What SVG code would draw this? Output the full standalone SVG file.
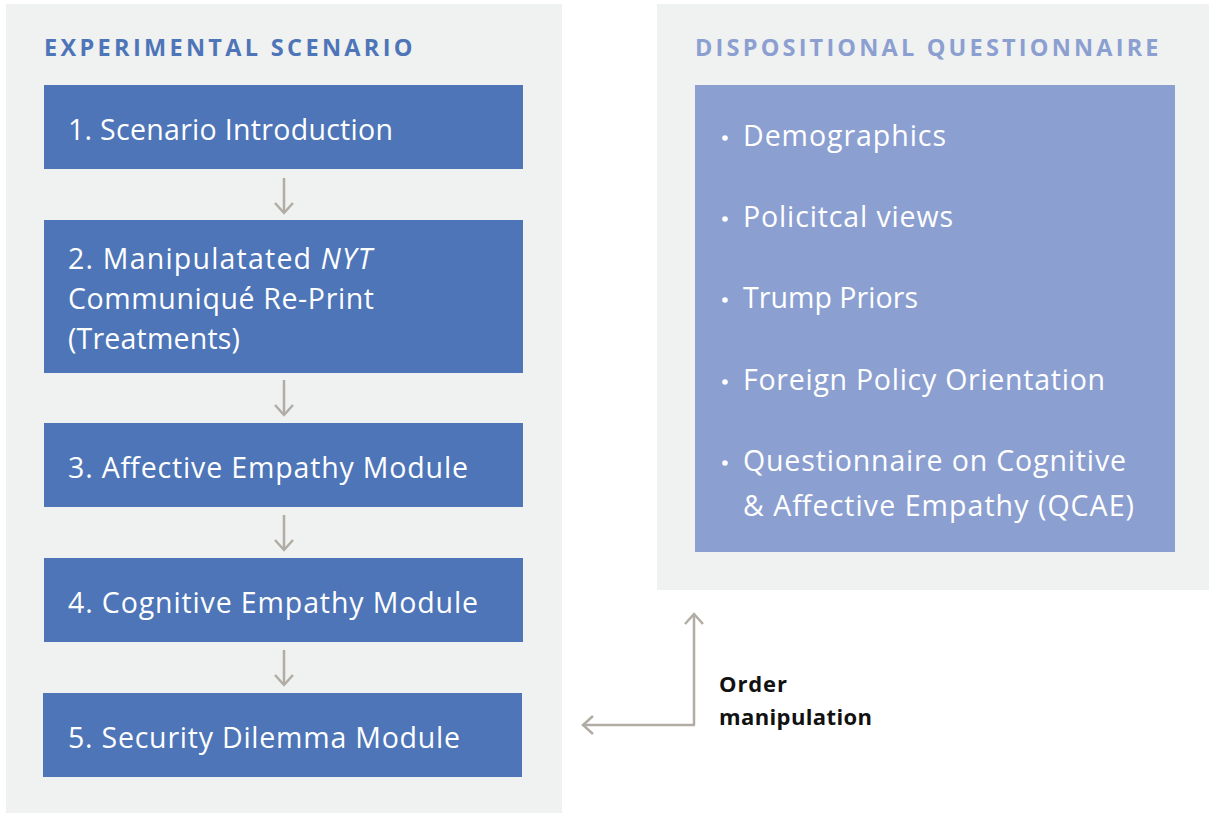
<svg xmlns="http://www.w3.org/2000/svg" width="1209" height="814" viewBox="0 0 1209 814">
<style>
.panel{fill:#f0f1f1}
.step{fill:#4d75b8}
.quest{fill:#8c9fd1}
.title{font-family:"Open Sans",Lato,sans-serif;font-weight:bold;font-size:23.5px;letter-spacing:1.5px}
.t{font-family:"Open Sans",Lato,sans-serif;font-size:28.5px;fill:#ffffff}
.lab{font-family:"Open Sans",Lato,sans-serif;font-weight:bold;font-size:22px;fill:#111111}
.conn{stroke:#b1ada4;stroke-width:2.5;fill:none}
</style>
<defs>
<marker id="ah" viewBox="0 0 20 20" refX="18" refY="10" markerWidth="20" markerHeight="20" markerUnits="userSpaceOnUse" orient="auto">
<path d="M8,1 L18,10 L8,19" fill="none" stroke="#b1ada4" stroke-width="2.5"/>
</marker>
</defs>
<g id="panel-experimental">
<rect class="panel" x="6" y="4" width="556" height="809"/>
<text class="title" x="44" y="56" fill="#4d75b8" textLength="370" lengthAdjust="spacing">EXPERIMENTAL SCENARIO</text>
</g>
<g id="panel-dispositional">
<rect class="panel" x="657" y="4" width="552" height="586"/>
<text class="title" x="695" y="56" fill="#8c9fd1" textLength="465" lengthAdjust="spacing">DISPOSITIONAL QUESTIONNAIRE</text>
</g>
<g id="step1">
<rect class="step" x="44" y="85" width="479" height="84"/>
<text class="t" x="68" y="140" textLength="325" lengthAdjust="spacing">1. Scenario Introduction</text>
</g>
<g id="step2">
<rect class="step" x="44" y="220" width="479" height="153"/>
<text class="t" x="68" y="269" textLength="304" lengthAdjust="spacing">2. Manipulatated <tspan font-style="italic">NYT</tspan></text>
<text class="t" x="68" y="309" textLength="306" lengthAdjust="spacing">Communiqué Re-Print</text>
<text class="t" x="68" y="349" textLength="172" lengthAdjust="spacing">(Treatments)</text>
</g>
<g id="step3">
<rect class="step" x="44" y="423" width="479" height="84"/>
<text class="t" x="68" y="478" textLength="400" lengthAdjust="spacing">3. Affective Empathy Module</text>
</g>
<g id="step4">
<rect class="step" x="44" y="558" width="479" height="84"/>
<text class="t" x="68" y="613" textLength="410" lengthAdjust="spacing">4. Cognitive Empathy Module</text>
</g>
<g id="step5">
<rect class="step" x="43" y="693" width="479" height="84"/>
<text class="t" x="68" y="748" textLength="392" lengthAdjust="spacing">5. Security Dilemma Module</text>
</g>
<g id="questionnaire">
<rect class="quest" x="695" y="85" width="480" height="467"/>
<g fill="#ffffff">
<circle cx="725" cy="138" r="2.8"/>
<circle cx="725" cy="219" r="2.8"/>
<circle cx="725" cy="300" r="2.8"/>
<circle cx="725" cy="382" r="2.8"/>
<circle cx="725" cy="463" r="2.8"/>
</g>
<text class="t" x="743" y="146" textLength="203" lengthAdjust="spacing">Demographics</text>
<text class="t" x="743" y="227" textLength="210" lengthAdjust="spacing">Policitcal views</text>
<text class="t" x="743" y="308" textLength="175" lengthAdjust="spacing">Trump Priors</text>
<text class="t" x="743" y="390" textLength="362" lengthAdjust="spacing">Foreign Policy Orientation</text>
<text class="t" x="743" y="471" textLength="383" lengthAdjust="spacing">Questionnaire on Cognitive</text>
<text class="t" x="743" y="516" textLength="391" lengthAdjust="spacing">&amp; Affective Empathy (QCAE)</text>
</g>
<g id="connectors">
<line class="conn" x1="284" y1="178" x2="284" y2="213" marker-end="url(#ah)"/>
<line class="conn" x1="284" y1="380" x2="284" y2="415" marker-end="url(#ah)"/>
<line class="conn" x1="284" y1="515" x2="284" y2="550" marker-end="url(#ah)"/>
<line class="conn" x1="284" y1="650" x2="284" y2="685" marker-end="url(#ah)"/>
<line class="conn" x1="694" y1="725" x2="694" y2="614" marker-end="url(#ah)"/>
<line class="conn" x1="695" y1="725" x2="583" y2="725" marker-end="url(#ah)"/>
</g>
<g id="order-label">
<text class="lab" x="719" y="692" textLength="68" lengthAdjust="spacing">Order</text>
<text class="lab" x="719" y="725" textLength="153" lengthAdjust="spacing">manipulation</text>
</g>
</svg>
